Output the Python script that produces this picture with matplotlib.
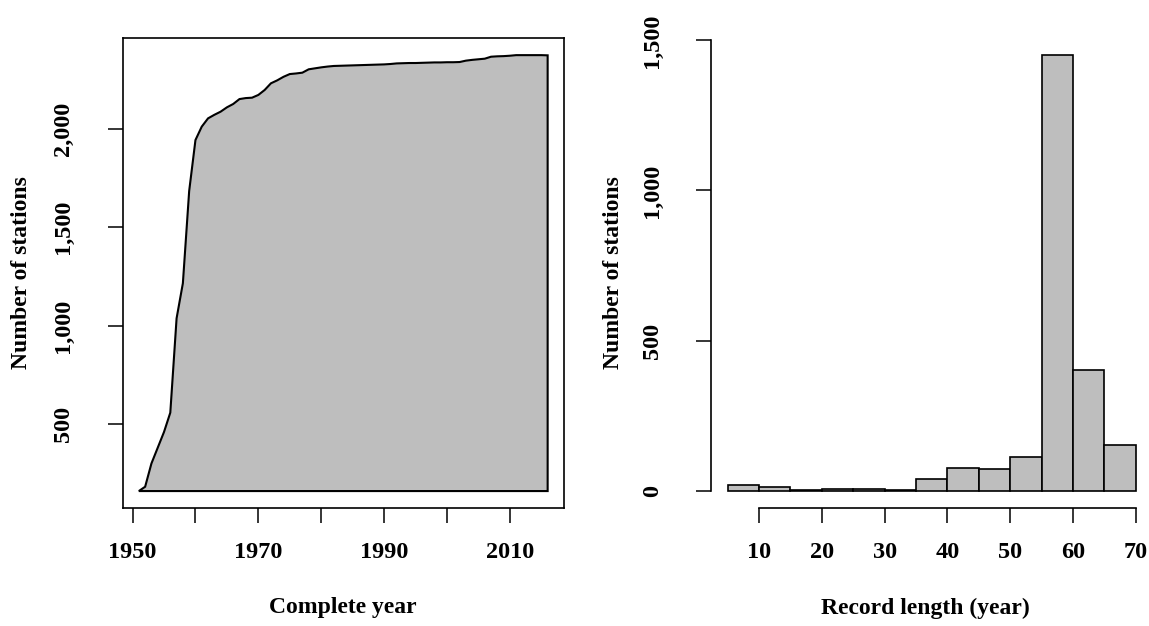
import numpy as np
import matplotlib.pyplot as plt

# ---- data ----
years = np.arange(1951, 2017)
n_stations = [160, 182, 300, 380, 460, 558, 1037, 1215, 1683, 1942,
              2010, 2052, 2070, 2086, 2108, 2125, 2150, 2155, 2157, 2171,
              2196, 2230, 2245, 2263, 2277, 2280, 2284, 2301, 2306, 2311,
              2315, 2318, 2319, 2320, 2321, 2322, 2323, 2324, 2325, 2326,
              2328, 2331, 2332, 2333, 2333, 2334, 2335, 2336, 2336, 2337,
              2337, 2338, 2345, 2349, 2352, 2355, 2365, 2367, 2368, 2370,
              2373, 2373, 2373, 2373, 2373, 2372]

breaks = np.arange(5, 75, 5)
counts = [17, 13, 3, 6, 6, 2, 37, 76, 72, 112, 1450, 403, 151]

left_yticks = [500, 1000, 1500, 2000]
left_xticks = np.arange(1950, 2020, 10)
left_xlabels = ['1950', '', '1970', '', '1990', '', '2010']
right_yticks = [0, 500, 1000, 1500]
right_xticks = np.arange(10, 80, 10)

grey = '#BEBEBE'
plt.rcParams['font.family'] = ['Liberation Serif', 'DejaVu Serif']
plt.rcParams['font.weight'] = 'bold'
fs = 17.5   # tick labels
fl = 17     # axis titles

fig = plt.figure(figsize=(11.49, 6.26), dpi=100)

#%% left panel: cumulative stations
ax1 = fig.add_axes([122.5/1149, 1-508/626, 441.5/1149, 470/626])
y = np.array(n_stations)
xs = np.concatenate([years, years[::-1]])
ys = np.concatenate([y, np.full(len(y), y.min())])
ax1.fill(xs, ys, facecolor=grey, edgecolor='black', linewidth=1.5)
ax1.set_xlim(1948.4, 2018.6)
ax1.set_ylim(74, 2460)
ax1.set_xticks(left_xticks)
ax1.set_xticklabels(left_xlabels)
ax1.set_yticks(left_yticks)
ax1.set_yticklabels([f'{v:,}' for v in left_yticks], rotation=90, va='center')
for s in ax1.spines.values():
    s.set_linewidth(1.2)
ax1.tick_params(length=11, width=1.1, labelsize=fs)
ax1.tick_params(axis='x', pad=13.5)
ax1.tick_params(axis='y', pad=24)
ax1.set_xlabel('Complete year', fontsize=fl, fontweight='bold')
ax1.xaxis.set_label_coords(0.5, -100/470)
ax1.xaxis.label.set_va('center')
ax1.set_ylabel('Number of stations', fontsize=fl, fontweight='bold')
ax1.yaxis.set_label_coords(-100.5/441.5, 0.5)
ax1.yaxis.label.set_va('center')

#%% right panel: histogram of record length
ax2 = fig.add_axes([711.3/1149, 1-508/626, 440.7/1149, 470/626])
ax2.bar(breaks[:-1], counts, width=5, align='edge', color=grey,
        edgecolor='black', linewidth=1.2)
ax2.set_xlim(2.4, 72.6)
ax2.set_ylim(-58, 1508)
ax2.spines['top'].set_visible(False)
ax2.spines['right'].set_visible(False)
ax2.spines['left'].set_bounds(0, 1500)
ax2.spines['bottom'].set_bounds(10, 70)
for s in ax2.spines.values():
    s.set_linewidth(1.2)
ax2.set_xticks(right_xticks)
ax2.set_yticks(right_yticks)
ax2.set_yticklabels([f'{v:,}' for v in right_yticks], rotation=90, va='center')
ax2.tick_params(length=11, width=1.1, labelsize=fs)
ax2.tick_params(axis='x', pad=13.5)
ax2.tick_params(axis='y', pad=24)
ax2.set_xlabel('Record length (year)', fontsize=fl, fontweight='bold')
ax2.xaxis.set_label_coords(0.485, -100/470)
ax2.xaxis.label.set_va('center')
ax2.set_ylabel('Number of stations', fontsize=fl, fontweight='bold')
ax2.yaxis.set_label_coords(-98/440.7, 0.5)
ax2.yaxis.label.set_va('center')

fig.savefig('out.png', dpi=100)
